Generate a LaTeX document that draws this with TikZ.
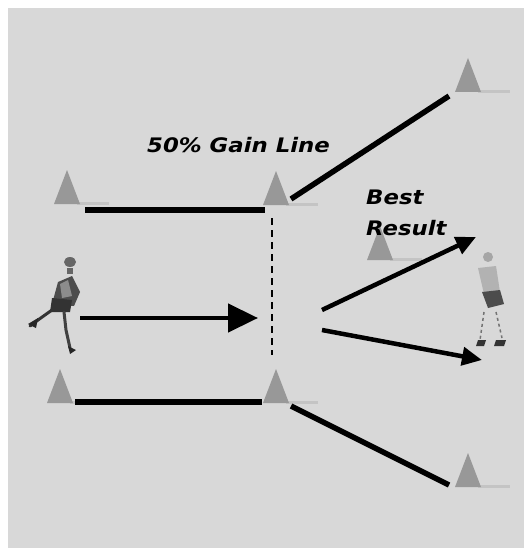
\documentclass[tikz,border=0pt]{standalone}
\usepackage{fontspec}
\usepackage{graphicx}
\setmainfont{DejaVu Sans}
\usetikzlibrary{arrows.meta}
\definecolor{field}{HTML}{D8D8D8}
\definecolor{conegrey}{HTML}{989898}
\definecolor{shadowgrey}{HTML}{C4C4C4}
\tikzset{
  x={(1pt,0)}, y={(0,-1pt)},
  cone/.pic={
    \fill[shadowgrey] (10,-2) -- (42,-2) -- (42,1) -- (10,1) -- cycle;
    \fill[conegrey] (-13,0) -- (0,-34) -- (13,0) -- cycle;
  },
  boundary/.style={line width=6pt, black},
  flare/.style={line width=5.5pt, black},
  runarrow/.style={line width=4.5pt, -{Triangle[length=30pt,width=28pt]}},
  passarrow/.style={line width=4.5pt, -{Triangle[length=20pt,width=18pt]}},
  gainline/.style={line width=1.6pt, dash pattern=on 7pt off 5pt},
  label/.style={font=\bfseries\itshape\fontsize{20}{31}\selectfont, inner sep=0pt},
  dark/.style={fill=black!75},
}
\newcommand{\widetext}[1]{\scalebox{1.14}[1]{#1}}
\begin{document}
\begin{tikzpicture}
  \useasboundingbox (0,0) rectangle (524,548);
  \fill[white] (0,0) rectangle (524,548);
  \fill[field] (8,8) rectangle (524,548);

  % cone positions (base centres)
  \coordinate (cTL) at (67,204);
  \coordinate (cTM) at (276,205);
  \coordinate (cTR) at (468,92);
  \coordinate (cBL) at (60,403);
  \coordinate (cBM) at (276,403);
  \coordinate (cBR) at (468,487);
  \coordinate (cMid) at (380,260);

  \foreach \c in {cTL,cTM,cTR,cBL,cBM,cBR,cMid}
    \pic at (\c) {cone};

  % channel edges
  \coordinate (tl) at (85,210);
  \coordinate (tm) at (265,210);
  \coordinate (bl) at (75,402);
  \coordinate (bm) at (262,402);
  \draw[boundary] (tl) -- (tm);
  \draw[boundary] (bl) -- (bm);

  % flaring edges
  \coordinate (tr0) at (291,199);
  \coordinate (tr1) at (449,96);
  \coordinate (br0) at (291,406);
  \coordinate (br1) at (449,485);
  \draw[flare] (tr0) -- (tr1);
  \draw[flare] (br0) -- (br1);

  % gain line
  \coordinate (g0) at (272,218);
  \coordinate (g1) at (272,355);
  \draw[gainline] (g0) -- (g1);

  % run and pass arrows
  \coordinate (r0) at (80,318);
  \coordinate (r1) at (258,318);
  \draw[runarrow] (r0) -- (r1);
  \coordinate (p0) at (322,310);
  \coordinate (p1) at (476,237);
  \coordinate (q0) at (322,330);
  \coordinate (q1) at (482,360);
  \draw[passarrow] (p0) -- (p1);
  \draw[passarrow] (q0) -- (q1);

  % labels
  \node[label, anchor=west] (gain) at (147,145) {\widetext{50\% Gain Line}};
  \node[label, anchor=west, align=left] (best) at (366,213) {\widetext{Best}\\\widetext{Result}};

  % ball carrier
  \fill[black!60] (70,262) ellipse (6 and 5);
  \fill[black!70] (58,282) -- (72,276) -- (80,292) -- (74,306) -- (52,304) -- cycle;
  \fill[black!45] (60,284) -- (68,280) -- (72,296) -- (62,298) -- cycle;
  \fill[black!80] (52,298) -- (72,300) -- (70,312) -- (50,312) -- cycle;
  \draw[black!80, line width=3pt, line cap=round] (52,310) -- (38,320) -- (30,326);
  \fill[black!85] (28,324) -- (38,318) -- (36,328) -- cycle;
  \draw[black!75, line width=3pt, line cap=round] (64,312) -- (66,330) -- (70,348);
  \fill[black!85] (68,346) -- (76,350) -- (70,354) -- cycle;
  \fill[black!60] (67,268) -- (73,268) -- (73,274) -- (67,274) -- cycle;

  % support runner
  \fill[black!35] (488,257) ellipse (5 and 5);
  \fill[black!30] (478,268) -- (496,266) -- (500,292) -- (484,294) -- cycle;
  \fill[black!70] (482,292) -- (500,290) -- (504,304) -- (488,308) -- cycle;
  \draw[black!55, line width=1.5pt, dash pattern=on 3pt off 3pt] (484,312) -- (480,340);
  \draw[black!55, line width=1.5pt, dash pattern=on 3pt off 3pt] (496,312) -- (502,338);
  \fill[black!80] (478,340) -- (486,340) -- (484,346) -- (476,346) -- cycle;
  \fill[black!80] (496,340) -- (506,340) -- (504,346) -- (494,346) -- cycle;
\end{tikzpicture}
\end{document}
